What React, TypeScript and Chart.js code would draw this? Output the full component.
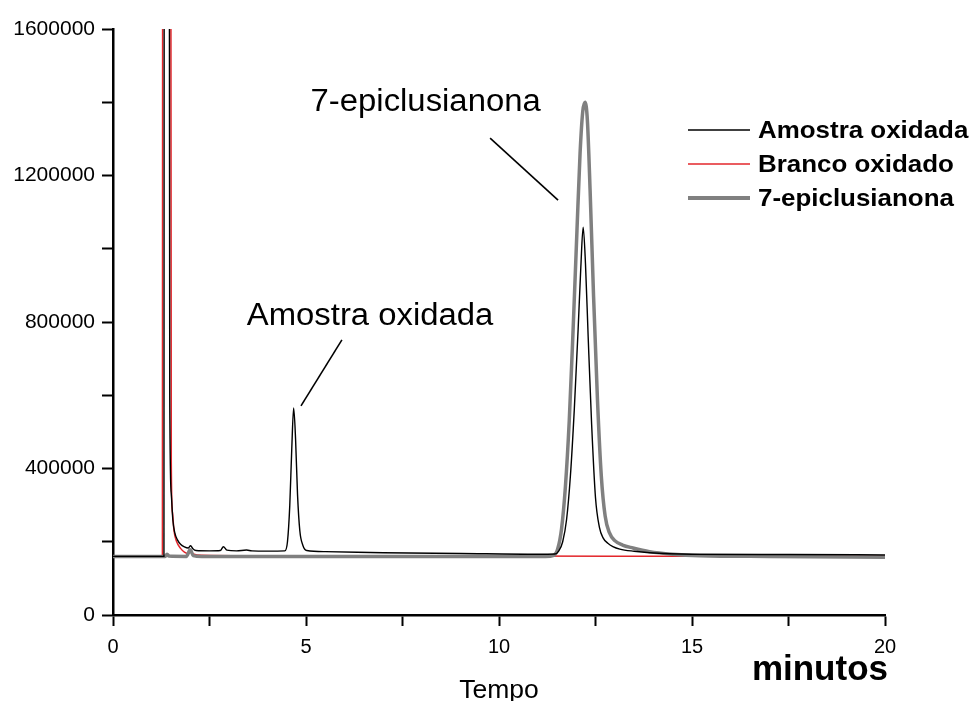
import React, { useEffect, useRef } from "react";
import { Chart, registerables } from "chart.js";

Chart.register(...registerables);

// Chromatogram traces: retention time (min) and detector signal (counts)
const amostraTime = [
  0, 1.32, 1.33, 1.45, 1.47, 1.51, 1.55, 1.6, 1.67, 1.75, 1.85, 1.95, 2.01, 2.07, 2.15, 2.5, 2.78, 2.86,
  2.95, 3.2, 3.46, 3.6, 4.0, 4.45, 4.52, 4.58, 4.63, 4.68, 4.73, 4.78, 4.84, 4.92, 5.02, 5.5, 7, 9, 11,
  11.45, 11.55, 11.65, 11.75, 11.85, 11.95, 12.05, 12.12, 12.18, 12.24, 12.31, 12.4, 12.5, 12.6, 12.7,
  12.82, 12.95, 13.13, 13.5, 13.9, 15, 17.5, 20,
];
const amostraSignal = [
  160000, 160000, 3000000, 3000000, 600000, 330000, 260000, 225000, 205000, 193000, 186000, 183000,
  189000, 181000, 176000, 175000, 176000, 186500, 177000, 175000, 177500, 175000, 174500, 175000,
  200000, 300000, 450000, 565000, 480000, 330000, 230000, 190000, 176000, 173000, 170000, 168000,
  166000, 166500, 175000, 200000, 260000, 380000, 560000, 780000, 950000, 1059000, 960000, 760000,
  520000, 320000, 240000, 210000, 196000, 187000, 180000, 174000, 170000, 166000, 165000, 164000,
];

const brancoTime = [
  0, 1.28, 1.29, 1.49, 1.51, 1.54, 1.58, 1.65, 1.75, 1.85, 1.95, 2.01, 2.08, 2.3, 5, 10, 15, 20,
];
const brancoSignal = [
  160000, 160000, 3000000, 3000000, 420000, 280000, 230000, 200000, 182000, 172000, 168000, 173000,
  167000, 163000, 161000, 161000, 160500, 160000,
];

const epiTime = [
  0, 1.35, 1.4, 1.45, 1.9, 2.0, 2.08, 2.3, 4, 8, 11.2, 11.42, 11.52, 11.62, 11.72, 11.82, 11.92, 12.02,
  12.1, 12.17, 12.23, 12.29, 12.36, 12.45, 12.55, 12.65, 12.75, 12.86, 13.0, 13.2, 13.47, 13.9, 14.5,
  15.2, 17, 20,
];
const epiSignal = [
  160000, 160000, 166000, 161000, 160000, 178000, 162000, 159500, 159500, 159500, 160000, 163000,
  180000, 235000, 350000, 530000, 780000, 1050000, 1260000, 1375000, 1400000, 1350000, 1160000, 870000,
  590000, 380000, 270000, 225000, 203000, 191000, 183000, 173000, 166000, 162000, 160000, 158000,
];

const seriesNames = ["Amostra oxidada", "Branco oxidado", "7-epiclusianona"];
const seriesColors = ["#000000", "#e3262b", "#808080"];
const seriesWidths = [1.4, 1.5, 3.5];

// Peak labels, anchored in data units: [text, x, y, leader x1, y1, x2, y2]
const peakLabels: [string, number, number, number, number, number, number][] = [
  ["Amostra oxidada", 6.66, 792000, 5.93, 751000, 4.87, 571000],
  ["7-epiclusianona", 8.1, 1376000, 9.77, 1302000, 11.53, 1133000],
];

const xTicksLabelEvery = 5;
const yTicksLabelEvery = 400000;

const FONT = "'Liberation Sans', Arial, sans-serif";

function stretchedText(
  ctx: CanvasRenderingContext2D,
  text: string,
  x: number,
  y: number,
  sx: number,
  align: CanvasTextAlign
) {
  ctx.save();
  ctx.translate(x, y);
  ctx.scale(sx, 1);
  ctx.textAlign = align;
  ctx.textBaseline = "alphabetic";
  ctx.fillText(text, 0, 0);
  ctx.restore();
}

const overlayPlugin = {
  id: "overlay",
  afterDraw(chart: any) {
    const ctx: CanvasRenderingContext2D = chart.ctx;
    const xs = chart.scales.x;
    const ys = chart.scales.y;
    const area = chart.chartArea;
    ctx.save();
    ctx.fillStyle = "#000";

    // peak labels with leader lines
    ctx.font = `31px ${FONT}`;
    for (const [text, tx, ty, x1, y1, x2, y2] of peakLabels) {
      stretchedText(ctx, text, xs.getPixelForValue(tx), ys.getPixelForValue(ty), 1.06, "center");
      ctx.beginPath();
      ctx.strokeStyle = "#000";
      ctx.lineWidth = 1.6;
      ctx.moveTo(xs.getPixelForValue(x1), ys.getPixelForValue(y1));
      ctx.lineTo(xs.getPixelForValue(x2), ys.getPixelForValue(y2));
      ctx.stroke();
    }

    // legend, top right
    const lx0 = area.right - 197;
    const lx1 = area.right - 135;
    const textX = area.right - 127;
    const baselines = [area.top + 109, area.top + 143, area.top + 177];
    ctx.font = `bold 24px ${FONT}`;
    seriesNames.forEach((name, i) => {
      const ly = baselines[i] - 8;
      ctx.beginPath();
      ctx.strokeStyle = seriesColors[i];
      ctx.lineWidth = i === 2 ? 4 : 1.6;
      ctx.moveTo(lx0, ly);
      ctx.lineTo(lx1, ly);
      ctx.stroke();
      stretchedText(ctx, name, textX, baselines[i], 1.08, "left");
    });

    // axis captions
    ctx.font = `bold 35px ${FONT}`;
    stretchedText(ctx, "minutos", area.right + 3, area.bottom + 65, 1.0, "right");
    ctx.font = `25px ${FONT}`;
    stretchedText(ctx, "Tempo", (area.left + area.right) / 2, area.bottom + 83, 1.06, "center");
    ctx.restore();
  },
};

function toPoints(t: number[], v: number[]) {
  return t.map((x, i) => ({ x, y: v[i] }));
}

export default function App() {
  const canvasRef = useRef<HTMLCanvasElement | null>(null);

  useEffect(() => {
    const canvas = canvasRef.current;
    if (!canvas) return;
    const series = [
      toPoints(amostraTime, amostraSignal),
      toPoints(brancoTime, brancoSignal),
      toPoints(epiTime, epiSignal),
    ];
    // draw order: black on top, then gray, red underneath
    const orders = [0, 2, 1];
    const chart = new Chart(canvas, {
      type: "line",
      data: {
        datasets: series.map((data, i) => ({
          label: seriesNames[i],
          data,
          borderColor: seriesColors[i],
          borderWidth: seriesWidths[i],
          pointRadius: 0,
          fill: false,
          cubicInterpolationMode: "monotone" as const,
          order: orders[i],
        })),
      },
      options: {
        responsive: false,
        animation: false,
        events: [],
        layout: { padding: { top: 29, right: 91, left: 0, bottom: 0 } },
        plugins: {
          legend: { display: false },
          title: { display: false },
          tooltip: { enabled: false },
        },
        scales: {
          x: {
            type: "linear",
            min: 0,
            max: 20,
            afterFit: (s: any) => {
              s.height = 86;
            },
            border: { display: true, color: "#000", width: 2.5 },
            grid: {
              display: true,
              drawOnChartArea: false,
              drawTicks: true,
              tickLength: 11,
              tickColor: "#000",
              tickWidth: 2,
            },
            ticks: {
              stepSize: 2.5,
              autoSkip: false,
              maxRotation: 0,
              padding: 9,
              color: "#000",
              font: { family: FONT, size: 20 },
              callback: (v: any) => (Number(v) % xTicksLabelEvery === 0 ? String(v) : ""),
            },
          },
          y: {
            type: "linear",
            min: 0,
            max: 1600000,
            afterFit: (s: any) => {
              s.width = 113;
            },
            border: { display: true, color: "#000", width: 2.5 },
            grid: {
              display: true,
              drawOnChartArea: false,
              drawTicks: true,
              tickLength: 11,
              tickColor: "#000",
              tickWidth: 2,
            },
            ticks: {
              stepSize: 200000,
              autoSkip: false,
              padding: 7,
              color: "#000",
              font: { family: FONT, size: 21 },
              callback: (v: any) => (Number(v) % yTicksLabelEvery === 0 ? String(v) : ""),
            },
          },
        },
      },
      plugins: [overlayPlugin],
    });
    return () => chart.destroy();
  }, []);

  return (
    <div style={{ position: "fixed", left: 0, top: 0, width: 976, height: 701, background: "#fff" }}>
      <canvas ref={canvasRef} width={976} height={701} style={{ width: 976, height: 701 }} />
    </div>
  );
}
